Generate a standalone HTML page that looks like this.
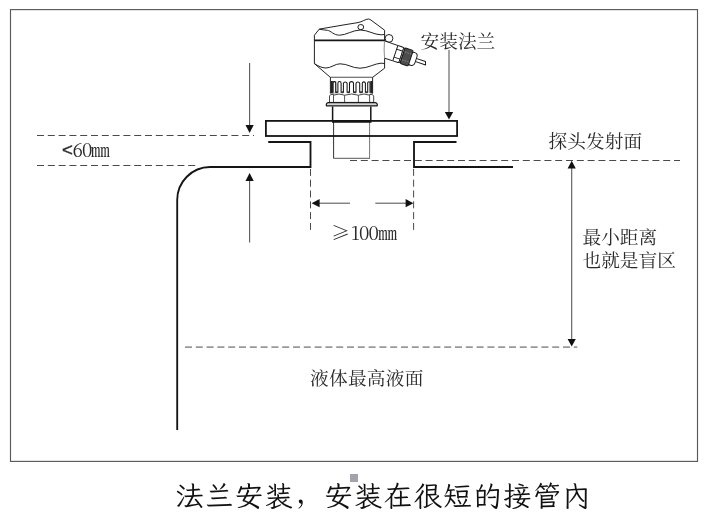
<!DOCTYPE html>
<html lang="zh-CN">
<head>
<meta charset="utf-8">
<title>法兰安装</title>
<style>
html,body{margin:0;padding:0;background:#fff;}
body{width:709px;height:518px;overflow:hidden;position:relative;}
svg{will-change:transform;position:absolute;left:0;top:0;display:block;}
.t{font-family:"Liberation Serif","Noto Serif CJK SC",serif;font-size:18.67px;fill:#2a2a2a;}
.n{font-family:"Noto Serif CJK SC","Liberation Serif",serif;}
.d{letter-spacing:-0.85px;}
.lt{font-family:"Liberation Sans",sans-serif;stroke:#222;stroke-width:0.35px;}
.cap{font-family:"Liberation Serif","LXGW WenKai TC","Noto Serif CJK SC",serif;font-size:28.6px;letter-spacing:1.2px;fill:#111;}
.cm{font-family:"Liberation Serif","Noto Serif CJK SC",serif;}
</style>
</head>
<body>
<svg width="709" height="518" viewBox="0 0 709 518">
  <defs>
    <linearGradient id="shade" x1="0" y1="0" x2="1" y2="0">
      <stop offset="0" stop-color="#111"/>
      <stop offset="0.45" stop-color="#555"/>
      <stop offset="1" stop-color="#fff"/>
    </linearGradient>
  </defs>
  <!-- frame -->
  <rect x="10.5" y="9.6" width="687" height="451.8" fill="none" stroke="#5a5a5a" stroke-width="1.15"/>

  <!-- dashed reference lines -->
  <g fill="none" stroke="#4a4a4a" stroke-width="1" stroke-dasharray="7 3.8">
    <line x1="37" y1="135.5" x2="254" y2="135.5"/>
    <line x1="37" y1="165.5" x2="196" y2="165.5"/>
    <line x1="350" y1="160.5" x2="680" y2="160.5"/>
    <line x1="310.5" y1="168.9" x2="310.5" y2="230.3"/>
    <line x1="413.6" y1="168.9" x2="413.6" y2="230.3"/>
  </g>
  <line x1="185" y1="347.1" x2="577.3" y2="347.1" stroke="#999" stroke-width="1.7" stroke-dasharray="7 3.8"/>

  <!-- probe body (thin) -->
  <g fill="none" stroke-width="1">
    <line x1="333.6" y1="121" x2="333.6" y2="158" stroke="#333"/>
    <line x1="369.6" y1="121" x2="369.6" y2="158" stroke="#777"/>
    <line x1="333.2" y1="158.3" x2="370" y2="158.3" stroke="#555"/>
  </g>

  <!-- flange plate -->
  <rect x="265.9" y="120.9" width="191.2" height="15.1" fill="none" stroke="#151515" stroke-width="1.8"/>
  <line x1="332" y1="121.5" x2="371.5" y2="121.5" stroke="#151515" stroke-width="2.4"/>

  <!-- tank / nozzle -->
  <g fill="none" stroke="#151515" stroke-width="1.85" stroke-linejoin="miter">
    <path d="M268.2 142 H310.5 V167 H210 A33 33 0 0 0 177.2 200 V430"/>
    <path d="M456.5 142 H414 V167 H513"/>
  </g>

  <!-- arrows -->
  <g stroke="#5a5a5a" stroke-width="1.1" fill="none">
    <line x1="249.6" y1="63" x2="249.6" y2="127"/>
    <line x1="249.6" y1="180" x2="249.6" y2="242.6"/>
    <line x1="449" y1="50" x2="449" y2="113"/>
    <line x1="571.7" y1="167" x2="571.7" y2="341"/>
    <line x1="318" y1="203.2" x2="350" y2="203.2"/>
    <line x1="375.3" y1="203.2" x2="407" y2="203.2"/>
  </g>
  <g fill="#111">
    <path d="M245.5 125 H253.7 L249.6 133 Z"/>
    <path d="M245.5 181 H253.7 L249.6 173 Z"/>
    <path d="M444.8 112 H453.2 L449 119.6 Z"/>
    <path d="M567.6 168.5 H575.8 L571.7 160.8 Z"/>
    <path d="M567.6 339 H575.8 L571.7 346.6 Z"/>
    <path d="M319.6 199.1 V207.3 L311.6 203.2 Z"/>
    <path d="M405.6 199.1 V207.3 L413.4 203.2 Z"/>
  </g>

  <!-- sensor -->
  <g id="sensor" fill="#fff" stroke="#161616" stroke-width="0.95" stroke-linejoin="round">
    <!-- housing -->
    <path d="M314.4 35.2 L319.3 29.1 L345 24.7 L358 22.6 C362 22 365.5 19 368.5 19 C369.5 19 370.3 19.6 371 20.1 L384.6 30.2 V68.2 L372.7 77.3 H330.3 L314.4 63.6 Z"/>
    <path fill="none" d="M319.3 29.2 C322 29.8 325 30 327.4 30.3 C331 30.8 333.5 35.2 339.7 35.2 C346 35.2 353 30 360.4 30 C368 30 374 34.8 381.3 34.8 C382.5 34.8 383.5 34.6 384.6 34.5"/>
    <path fill="none" d="M314.4 63.6 C318 66 322 68 326 68 C331 68 335 63.8 340 63.8 C348 63.8 352 68.2 360 68.2 C368 68.2 375 63.4 381 63.2 C382.3 63.2 383.5 63.4 384.6 63.6"/>
    <line x1="314.4" y1="40.3" x2="384.6" y2="40.3" stroke-width="1.7"/>
    <ellipse cx="360.8" cy="27.1" rx="2.9" ry="2.6" fill="none"/>
    <circle cx="389" cy="38.4" r="3.9"/>
    <!-- cable gland -->
    <path d="M384.1 40.9 L397.9 45.5 L392.7 60.8 L384.1 58.2 Z" stroke="none"/>
    <path d="M384.6 40.9 L397.9 45.5 M392.7 60.8 L384.6 58.2" fill="none"/>
    <path d="M384.5 41 Q383.6 50 384.6 58.2" fill="none" stroke="#8a8a8a" stroke-width="0.9"/>
    <g transform="translate(384.4,49.5) rotate(18.5)">
      <path d="M32 -1.6 L42.8 -1.6 L44 1.6 L32 1.6 Z"/>
      
      <rect x="26" y="-6.7" width="7.2" height="13.4" rx="3.4"/>
      <rect x="11.5" y="-8.1" width="6.4" height="16.2" rx="1"/>
      <line x1="11.5" y1="-4.2" x2="17.9" y2="-4.2"/>
      <line x1="11.5" y1="4.2" x2="17.9" y2="4.2"/>
      <rect x="17.9" y="-7.6" width="1.4" height="15.2" stroke-width="0.8"/>
      <rect x="19.2" y="-8.2" width="8.5" height="16.4" rx="1.2" fill="#4d4d4d"/>
      <g stroke="#9a9a9a" stroke-width="0.7" stroke-dasharray="1.6 1.2" fill="none">
        <line x1="20" y1="-4.2" x2="27" y2="-4.2"/>
        <line x1="20" y1="4.2" x2="27" y2="4.2"/>
      </g>
    </g>
    <!-- ribbed collar -->
    <path d="M330.4 77.8 V93.4 H372.6 V77.8 Z" stroke="none"/>
    <path d="M330.4 93.6 V77.3 M372.6 77.3 V93.6" fill="none"/>
    <rect x="330.9" y="81" width="6.4" height="12.4" fill="url(#shade)" stroke="none"/>
    <rect x="370.3" y="81" width="2.3" height="12.4" fill="#222" stroke="none"/>
    <g fill="#fff" stroke-width="1.05">
      <path d="M333.1 92.8 V82.9 a1.3 1.3 0 0 1 2.6 0 V92.8"/>
      <path d="M337.9 92.8 V83.2 a1.6 1.6 0 0 1 3.2 0 V92.8"/>
      <path d="M343.4 92.8 V83.4 a1.9 1.9 0 0 1 3.7 0 V92.8"/>
      <path d="M349.5 92.8 V83.6 a2.0 2.0 0 0 1 4.0 0 V92.8"/>
      <path d="M356.0 92.8 V83.4 a1.9 1.9 0 0 1 3.7 0 V92.8"/>
      <path d="M362.3 92.8 V83.1 a1.6 1.6 0 0 1 3.1 0 V92.8"/>
      <path d="M367.7 92.8 V82.8 a1.1 1.1 0 0 1 2.3 0 V92.8"/>
    </g>
    <g fill="#333" stroke="none">
      <rect x="335.7" y="91.3" width="2.2" height="1.9"/>
      <rect x="341.1" y="91.3" width="2.3" height="1.9"/>
      <rect x="347.2" y="91.3" width="2.3" height="1.9"/>
      <rect x="353.5" y="91.3" width="2.5" height="1.9"/>
      <rect x="359.8" y="91.3" width="2.6" height="1.9"/>
      <rect x="365.4" y="91.3" width="2.2" height="1.9"/>
    </g>
    <!-- hex nut -->
    <path d="M333.5 95.2 Q339 92.8 344.6 95.2 Q351.5 92.8 358.4 95.2 Q364 92.8 369.6 95.2 L369.6 94.4 Q373.4 94 373.7 96 V102.4 H329.5 V96 Q329.8 94 333.5 94.4 Z" stroke="#333" stroke-width="0.9"/>
    <g stroke="#555" stroke-width="1">
      <line x1="333.5" y1="95" x2="333.5" y2="102.3"/>
      <line x1="344.6" y1="95" x2="344.6" y2="102.3"/>
      <line x1="358.4" y1="95" x2="358.4" y2="102.3"/>
      <line x1="369.6" y1="95" x2="369.6" y2="102.3"/>
    </g>
    
    <!-- washer -->
    <path d="M328.2 102.6 H375.4 C377 102.9 377.6 104.3 377.2 105.9 H326.4 C326 104.3 326.6 102.9 328.2 102.6 Z" fill="#d4d4d4" stroke="#1a1a1a" stroke-width="1.25"/>
    <!-- neck -->
    <path d="M332.6 106.4 V121 M370.8 106.4 V121" stroke-width="1.5" fill="none"/>
  </g>

  <!-- labels -->
  <text class="t" x="420.6" y="47.5">安装法兰</text>
  <text class="t" x="548.4" y="148.1" style="letter-spacing:0.1px">探头发射面</text>
  <text class="t" x="582.5" y="244">最小距离</text>
  <text class="t" x="582.5" y="267">也就是盲区</text>
  <text class="t" x="310" y="385.4" style="letter-spacing:0.3px">液体最高液面</text>
  <text class="t n" x="62" y="157"><tspan class="lt" dy="-0.8">&lt;</tspan><tspan class="d" x="72.4" dy="0.8">60</tspan><tspan x="91">㎜</tspan></text>
  <text class="t n" x="331.3" y="240">≥<tspan class="d" x="351">100</tspan><tspan x="378.2">㎜</tspan></text>

  <!-- caption -->
  <rect x="350" y="474" width="8" height="8" fill="#a2a3ae"/>
  <text class="cap" x="175.2" y="506.4">法兰安装<tspan class="cm" dx="1.8" dy="-3.6">，</tspan><tspan dx="-1.8" dy="3.6">安装在很短的接管内</tspan></text>
</svg>
</body>
</html>
